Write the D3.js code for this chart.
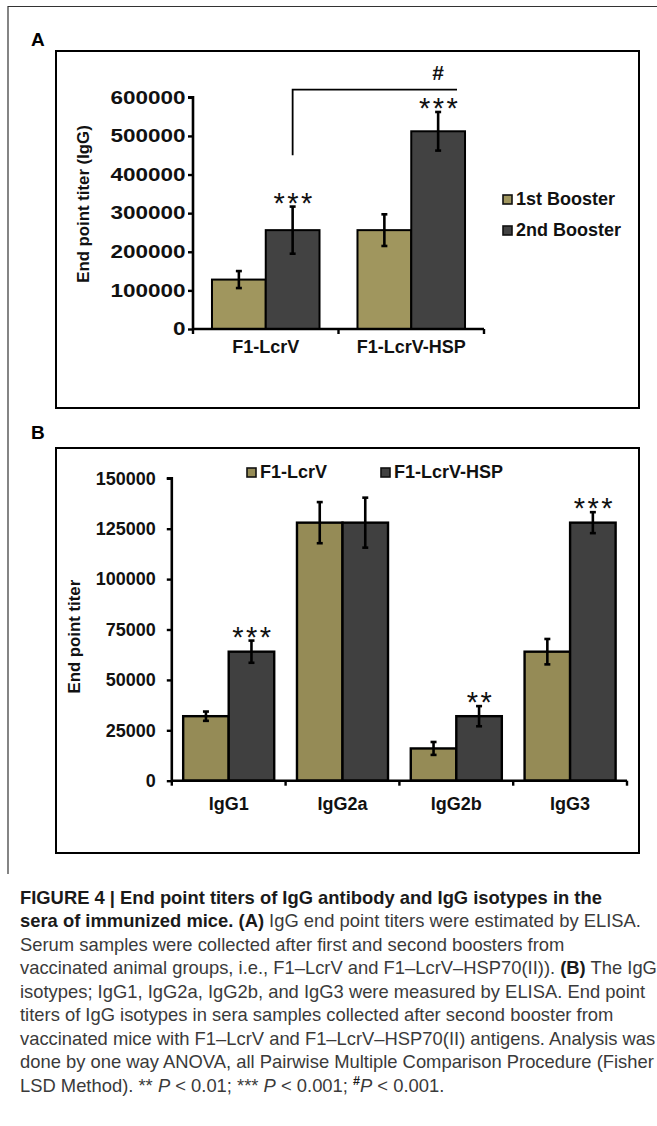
<!DOCTYPE html>
<html>
<head>
<meta charset="utf-8">
<script src="https://cdn.jsdelivr.net/npm/d3@7"></script>
<style>
  body { margin: 0; background: #fff; }
  svg text { font-family: "Liberation Sans", Arial, Helvetica, sans-serif; }
  .bold { font-weight: bold; }
</style>
</head>
<body>
<svg id="fig" width="657" height="1126"></svg>
<script>
// ---- panel A data
let groupsA = ["F1-LcrV", "F1-LcrV-HSP"];
let seriesA = ["1st Booster", "2nd Booster"];
let firstBooster = [128000, 256000];
let firstBoosterErr = [22000, 41000];
let secondBooster = [256000, 512000];
let secondBoosterErr = [61000, 50000];
let starsA = ["***", "***"];
let ticksA = [0, 100000, 200000, 300000, 400000, 500000, 600000];

// ---- panel B data
let isotypes = ["IgG1", "IgG2a", "IgG2b", "IgG3"];
let seriesB = ["F1-LcrV", "F1-LcrV-HSP"];
let lcrv = [32000, 128000, 16000, 64000];
let lcrvErr = [2300, 10200, 3200, 6300];
let lcrvHsp = [64000, 128000, 32000, 128000];
let lcrvHspErr = [5500, 12400, 5000, 5200];
let starsB = ["***", "", "**", "***"];
let ticksB = [0, 25000, 50000, 75000, 100000, 125000, 150000];

let colors = ["#a0965e", "#424242"];
let colorsB = ["#958b56", "#404040"];

let svg = d3.select("#fig");

// outer frame (top + left rule)
svg.append("line").attr("x1", 8).attr("x2", 657).attr("y1", 6.5).attr("y2", 6.5)
  .attr("stroke", "#333").attr("stroke-width", 1.2);
svg.append("line").attr("x1", 8).attr("x2", 8).attr("y1", 6).attr("y2", 874)
  .attr("stroke", "#333").attr("stroke-width", 1.2);

function panel(opt) {
  let g = svg.append("g");
  // box
  g.append("rect").attr("x", opt.box[0]).attr("y", opt.box[1])
    .attr("width", opt.box[2] - opt.box[0]).attr("height", opt.box[3] - opt.box[1])
    .attr("fill", "none").attr("stroke", "#000").attr("stroke-width", 2);
  g.append("text").attr("class", "bold").attr("x", 31).attr("y", opt.letterY)
    .attr("font-size", 19).text(opt.letter);

  let x = d3.scaleBand().domain(opt.groups).range(opt.xr).padding(0);
  let xSub = d3.scaleBand().domain(opt.series).range([0, x.bandwidth()])
    .paddingInner(0).paddingOuter(opt.pad);
  let y = d3.scaleLinear().domain(opt.ydom).range(opt.yr);

  let data = opt.groups.map((gr, i) => ({
    group: gr,
    vals: opt.series.map((s, j) => ({ key: s, j: j, v: opt.values[j][i], e: opt.errors[j][i] }))
  }));

  let layer = g.selectAll("g.layer").data(data).enter().append("g")
    .attr("class", "layer")
    .attr("transform", d => "translate(" + x(d.group) + ",0)");

  layer.selectAll("rect").data(d => d.vals).enter().append("rect")
    .attr("x", d => xSub(d.key))
    .attr("y", d => y(d.v))
    .attr("width", xSub.bandwidth())
    .attr("height", d => y(0) - y(d.v))
    .attr("fill", d => opt.colors[d.j])
    .attr("stroke", "#000").attr("stroke-width", opt.barStroke);

  // error bars
  let eb = layer.selectAll("g.err").data(d => d.vals).enter().append("g").attr("class", "err");
  eb.append("line")
    .attr("x1", d => xSub(d.key) + xSub.bandwidth() / 2)
    .attr("x2", d => xSub(d.key) + xSub.bandwidth() / 2)
    .attr("y1", d => y(d.v - d.e)).attr("y2", d => y(d.v + d.e))
    .attr("stroke", "#000").attr("stroke-width", 2.6);
  [1, -1].forEach(sg => {
    eb.append("line")
      .attr("x1", d => xSub(d.key) + xSub.bandwidth() / 2 - 3)
      .attr("x2", d => xSub(d.key) + xSub.bandwidth() / 2 + 3)
      .attr("y1", d => y(d.v + sg * d.e)).attr("y2", d => y(d.v + sg * d.e))
      .attr("stroke", "#000").attr("stroke-width", 2.6);
  });

  // significance stars over second series
  layer.append("text")
    .attr("x", xSub(opt.series[1]) + xSub.bandwidth() / 2 + 1.5)
    .attr("y", (d, i) => y(opt.values[1][i] + opt.errors[1][i]) + 6)
    .attr("text-anchor", "middle").attr("font-size", 29).attr("letter-spacing", 2.5)
    .attr("fill", "#111")
    .text((d, i) => opt.stars[i]);

  // axes
  let yAxis = g.append("g").attr("transform", "translate(" + opt.xr[0] + ",0)")
    .call(d3.axisLeft(y).tickValues(opt.ticks).tickSize(5).tickPadding(opt.tickPad).tickFormat(d3.format("d")));
  let xAxis = g.append("g").attr("transform", "translate(0," + opt.yr[0] + ")")
    .call(d3.axisBottom(x).tickSize(0).tickPadding(opt.xPad));
  // boundary ticks on x axis
  let bounds = opt.groups.map(gr => x(gr)).concat([opt.xr[1]]);
  g.selectAll("line.xt").data(bounds).enter().append("line")
    .attr("x1", d => d).attr("x2", d => d)
    .attr("y1", opt.yr[0]).attr("y2", opt.yr[0] + 5)
    .attr("stroke", "#000").attr("stroke-width", 2.4);

  [yAxis, xAxis].forEach(a => {
    a.select(".domain").attr("stroke", "#000").attr("stroke-width", 2.6);
    a.selectAll(".tick line").attr("stroke", "#000").attr("stroke-width", 2.4);
    a.selectAll("text").attr("class", "bold").attr("fill", "#111")
      .style("font-family", "'Liberation Sans', Arial, sans-serif");
  });
  yAxis.select(".domain").attr("d", "M-5," + opt.yr[1] + "H0V" + opt.yr[0]);
  xAxis.select(".domain").attr("d", "M" + opt.xr[0] + ",0H" + opt.xr[1]);
  yAxis.selectAll("text").attr("font-size", opt.tickFont)
    .attr("transform", "scale(" + opt.tickStretch + ",1)");
  xAxis.selectAll("text").attr("font-size", opt.xFont);

  // y label
  g.append("text").attr("class", "bold")
    .attr("transform", "translate(" + opt.ylabPos[0] + "," + opt.ylabPos[1] + ") rotate(-90)")
    .attr("text-anchor", "middle").attr("dy", "0.35em").attr("font-size", 16.8)
    .attr("fill", "#111").text(opt.ylab);

  // legend
  let lg = g.selectAll("g.leg").data(opt.series).enter().append("g")
    .attr("transform", (d, i) => "translate(" + opt.legPos[i][0] + "," + opt.legPos[i][1] + ")");
  lg.append("rect").attr("x", 0).attr("y", -9).attr("width", 9).attr("height", 9)
    .attr("fill", (d, i) => opt.colors[i]).attr("stroke", "#111").attr("stroke-width", 1.6);
  lg.append("text").attr("class", "bold").attr("x", 13).attr("y", 1)
    .attr("font-size", opt.legFont).attr("fill", "#111").text(d => d);

  return { g: g, x: x, xSub: xSub, y: y };
}

let A = panel({
  letter: "A", letterY: 46, box: [56, 51, 639, 408],
  groups: groupsA, series: seriesA, values: [firstBooster, secondBooster],
  errors: [firstBoosterErr, secondBoosterErr], stars: starsA,
  colors: colors, barStroke: 2,
  xr: [193, 484], yr: [329, 97.3], ydom: [0, 600000], pad: 0.353,
  ticks: ticksA, tickPad: 1, tickFont: 18, tickStretch: 1.25, xPad: 11, xFont: 18,
  ylab: "End point titer (IgG)", ylabPos: [82.7, 204],
  legPos: [[503, 204], [503, 235]], legFont: 18
});

// comparison bracket between the two 2nd-booster bars
let bx1 = A.x(groupsA[0]) + A.xSub(seriesA[1]) + A.xSub.bandwidth() / 2;
let bx2 = A.x(groupsA[1]) + A.xSub(seriesA[1]) + A.xSub.bandwidth() - 8;
A.g.append("path")
  .attr("d", "M" + bx1 + "," + A.y(450000) + "V" + A.y(620000) + "H" + bx2)
  .attr("fill", "none").attr("stroke", "#000").attr("stroke-width", 1.8);
A.g.append("text").attr("class", "bold")
  .attr("x", A.x(groupsA[1]) + A.xSub(seriesA[1]) + A.xSub.bandwidth() / 2)
  .attr("y", A.y(620000) - 10).attr("text-anchor", "middle").attr("font-size", 21)
  .attr("fill", "#111").text("#");

panel({
  letter: "B", letterY: 439, box: [56, 448, 639, 853],
  groups: isotypes, series: seriesB, values: [lcrv, lcrvHsp],
  errors: [lcrvErr, lcrvHspErr], stars: starsB,
  colors: colorsB, barStroke: 2.4,
  xr: [171.8, 627], yr: [780.7, 478.3], ydom: [0, 150000], pad: 0.25,
  ticks: ticksB, tickPad: 11, tickFont: 18, tickStretch: 1, xPad: 17, xFont: 18,
  ylab: "End point titer", ylabPos: [74.5, 636.7],
  legPos: [[247, 477], [381, 477]], legFont: 18
});

// ---- caption
let caption = [
  [["b", "FIGURE 4 | End point titers of IgG antibody and IgG isotypes in the"]],
  [["b", "sera of immunized mice. (A)"], ["r", " IgG end point titers were estimated by ELISA."]],
  [["r", "Serum samples were collected after first and second boosters from"]],
  [["r", "vaccinated animal groups, i.e., F1–LcrV and F1–LcrV–HSP70(II)). "], ["b", "(B)"], ["r", " The IgG"]],
  [["r", "isotypes; IgG1, IgG2a, IgG2b, and IgG3 were measured by ELISA. End point"]],
  [["r", "titers of IgG isotypes in sera samples collected after second booster from"]],
  [["r", "vaccinated mice with F1–LcrV and F1–LcrV–HSP70(II) antigens. Analysis was"]],
  [["r", "done by one way ANOVA, all Pairwise Multiple Comparison Procedure (Fisher"]],
  [["r", "LSD Method). ** "], ["i", "P"], ["r", " < 0.01; *** "], ["i", "P"], ["r", " < 0.001; "], ["s", "#"], ["i", "P"], ["r", " < 0.001."]]
];
let cap = svg.append("g");
let capText = cap.selectAll("text").data(caption).enter().append("text")
  .attr("x", 0).attr("y", (d, i) => i * 23.5)
  .attr("font-size", 19);
capText.selectAll("tspan").data(d => d).enter().append("tspan")
  .attr("font-weight", d => (d[0] === "b" || d[0] === "s") ? "bold" : "normal")
  .attr("font-style", d => d[0] === "i" ? "italic" : "normal")
  .attr("fill", d => (d[0] === "b" || d[0] === "s") ? "#1a1a1a" : "#3a3a3a")
  .attr("baseline-shift", d => d[0] === "s" ? "super" : null)
  .attr("font-size", d => d[0] === "s" ? 13 : null)
  .text(d => d[1]);
// squeeze to the condensed caption width (line 2 spans ~x 20..641)
let w2 = capText.nodes()[1].getComputedTextLength();
let sx = 621 / w2;
cap.attr("transform", "translate(20,904) scale(" + sx + ",1)");
</script>
</body>
</html>
